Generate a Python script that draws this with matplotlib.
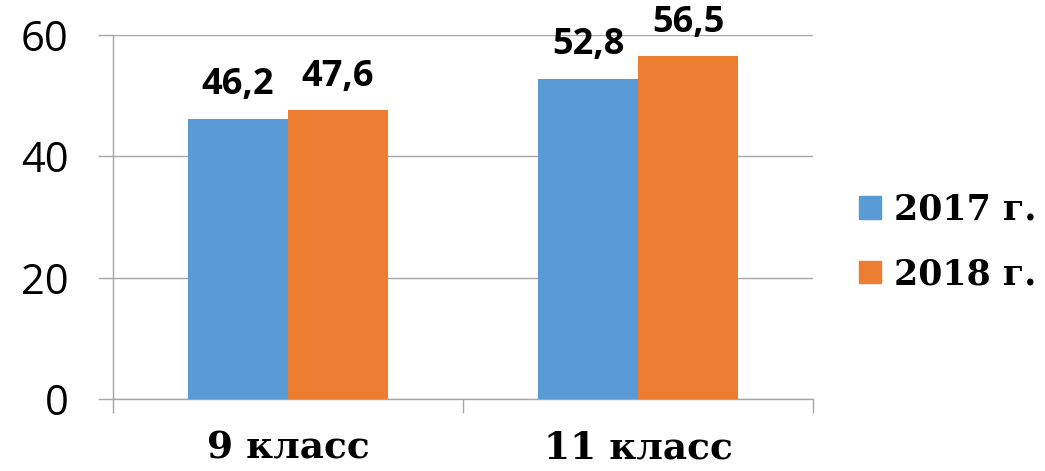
import matplotlib
matplotlib.use("Agg")
import matplotlib.pyplot as plt
import numpy as np
from matplotlib.patches import Patch

categories = ["9 класс", "11 класс"]
series_names = ["2017 г.", "2018 г."]
values_2017 = [46.2, 52.8]
values_2018 = [47.6, 56.5]
y_ticks = [0, 20, 40, 60]

BLUE = "#5B9BD5"
ORANGE = "#ED7D31"
GRID = "#A6A6A6"

fig = plt.figure(figsize=(10.45, 4.71), dpi=100)
ax = fig.add_axes([113 / 1045, 72 / 471, 700 / 1045, 364 / 471])

x = np.arange(len(categories))
w = 100 / 350
b1 = ax.bar(x - w / 2, values_2017, width=w, color=BLUE, zorder=3)
b2 = ax.bar(x + w / 2, values_2018, width=w, color=ORANGE, zorder=3)

for bars, vals in ((b1, values_2017), (b2, values_2018)):
    for rect, v in zip(bars, vals):
        ax.annotate(f"{v:.1f}".replace(".", ","),
                    (rect.get_x() + rect.get_width() / 2, v),
                    xytext=(0, 11), textcoords="offset points",
                    ha="center", va="bottom", fontsize=26, fontweight="bold",
                    family="Open Sans")

ax.set_xlim(-0.5, len(categories) - 0.5)
ax.set_ylim(0, 60)
ax.set_yticks(y_ticks)
ax.set_yticklabels([str(t) for t in y_ticks], fontsize=30, family="Open Sans")
ax.yaxis.grid(True, color=GRID, lw=1.0, zorder=0)
ax.tick_params(axis="y", length=11, color=GRID, width=1.0, pad=21)

ax.set_xticks(np.arange(len(categories) + 1) - 0.5)
ax.set_xticklabels([])
ax.tick_params(axis="x", which="major", length=10, color=GRID, width=1.0)
ax.set_xticks(x, minor=True)
ax.set_xticklabels(categories, minor=True, fontsize=27, fontweight="bold",
                   family="DejaVu Serif")
ax.tick_params(axis="x", which="minor", length=0, pad=22)

for s in ("top", "right"):
    ax.spines[s].set_visible(False)
for s in ("left", "bottom"):
    ax.spines[s].set_color(GRID)
    ax.spines[s].set_linewidth(1.0)

handles = [Patch(color=BLUE), Patch(color=ORANGE)]
fig.legend(handles, series_names, loc="center left",
           bbox_to_anchor=(859 / 1045, (471 - 242) / 471), frameon=False,
           prop={"family": "DejaVu Serif", "weight": "bold", "size": 25},
           handlelength=0.62, handleheight=0.62, handletextpad=0.4,
           labelspacing=0.88, borderaxespad=0, borderpad=0)

fig.savefig("out.png", dpi=100)
